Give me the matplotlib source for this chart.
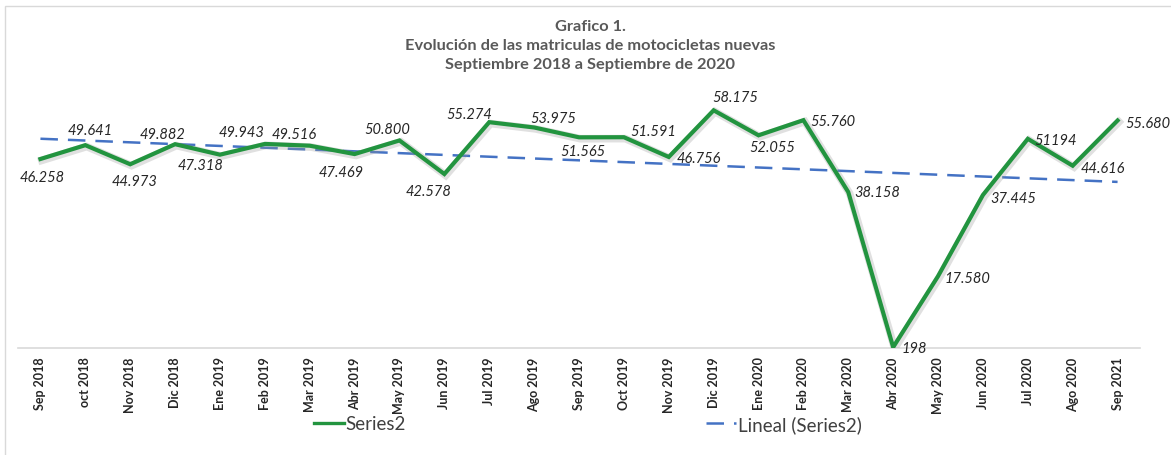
import numpy as np
import matplotlib
matplotlib.use('Agg')
from matplotlib import pyplot as plt
import matplotlib.patheffects as pe
from matplotlib.patches import Rectangle
from matplotlib.lines import Line2D

#%% Data

meses = ['Sep 2018', 'oct 2018', 'Nov 2018', 'Dic 2018', 'Ene 2019', 'Feb 2019',
         'Mar 2019', 'Abr 2019', 'May 2019', 'Jun 2019', 'Jul 2019', 'Ago 2019',
         'Sep 2019', 'Oct 2019', 'Nov 2019', 'Dic 2019', 'Ene 2020', 'Feb 2020',
         'Mar 2020', 'Abr 2020', 'May 2020', 'Jun 2020', 'Jul 2020', 'Ago 2020',
         'Sep 2021']
matriculas = [46258, 49641, 44973, 49882, 47318, 49943, 49516, 47469, 50800,
              42578, 55274, 53975, 51565, 51591, 46756, 58175, 52055, 55760,
              38158, 198, 17580, 37445, 51194, 44616, 55680]
etiquetas = ['46.258', '49.641', '44.973', '49.882', '47.318', '49.943', '49.516',
             '47.469', '50.800', '42.578', '55.274', '53.975', '51.565', '51.591',
             '46.756', '58.175', '52.055', '55.760', '38.158', '198', '17.580',
             '37.445', '51194', '44.616', '55.680']

titulo = 'Grafico 1.\nEvolución de las matriculas de motocicletas nuevas\nSeptiembre 2018 a Septiembre de 2020'

# label offsets in pixels (dx, dy)
offsets = [(2, -18), (5, 15), (4, -17), (-13, 10), (-19, -10), (-23, 12), (-16, 12),
           (-13, -18), (-12, 11), (-16, -17), (-20, 8), (19, 9), (4, -14), (29, 6),
           (30, -1), (22, 13), (14, -12), (30, -1), (29, 0), (21, -1), (29, -2),
           (30, -3), (28, -1), (30, -2), (30, -2)]

#%% Plot

plt.rcParams['font.family'] = ['Lato', 'DejaVu Sans']

W, H = 1171, 456
fig = plt.figure(figsize=(W / 100, H / 100), dpi=100)
ax = fig.add_axes([18 / W, (H - 349) / H, 1122 / W, 286 / H])

x = np.arange(len(matriculas))
y = np.array(matriculas)

verde = '#22943F'
azul = '#4472C4'

ax.plot(x, y, color=verde, lw=3.0, solid_joinstyle='miter', zorder=3,
        path_effects=[pe.SimpleLineShadow(offset=(1, -1), shadow_color='#999999',
                                          alpha=0.3, linewidth=5.5),
                      pe.Normal()])

coef = np.polyfit(x, y, 1)
ax.plot(x, np.polyval(coef, x), color=azul, lw=1.8, dashes=(7, 4), zorder=2)

for i in range(len(x)):
    ax.annotate(etiquetas[i], (x[i], y[i]), xytext=offsets[i], textcoords='offset pixels',
                ha='center', va='center', fontsize=10.5, style='italic', color='#262626')

ax.set_xlim(-0.5, len(x) - 0.5)
ax.set_ylim(0, 70000)
ax.set_xticks(x)
ax.set_xticklabels(meses, rotation=90, fontsize=9, fontweight='bold', color='#262626')
ax.tick_params(axis='x', length=0, pad=6)
ax.set_yticks([])
for s in ['top', 'right', 'left']:
    ax.spines[s].set_visible(False)
ax.spines['bottom'].set_color('#D9D9D9')
ax.spines['bottom'].set_linewidth(1.2)

fig.text(590 / W, 1 - 46 / H, titulo, ha='center', va='center', fontsize=11.8,
         fontweight='bold', color='#595959', linespacing=1.45)

h1 = Line2D([], [], color=verde, lw=2.4)
h2 = Line2D([], [], color=azul, lw=1.8, dashes=(7, 4))
fig.legend([h1], ['Series2'], loc='center left', bbox_to_anchor=(297 / W, 1 - 425 / H),
           frameon=False, fontsize=13.5, handlelength=1.6, handletextpad=0.1,
           labelcolor='#404040')
fig.legend([h2], ['Lineal (Series2)'], loc='center left', bbox_to_anchor=(689 / W, 1 - 425 / H),
           frameon=False, fontsize=13.5, handlelength=1.6, handletextpad=0.1,
           labelcolor='#404040')

fig.patches.append(Rectangle((5 / W, -0.1), 2, 1.1 - 7 / H, transform=fig.transFigure,
                             fill=False, edgecolor='#D9D9D9', lw=1))

fig.savefig('out.png', dpi=100)
